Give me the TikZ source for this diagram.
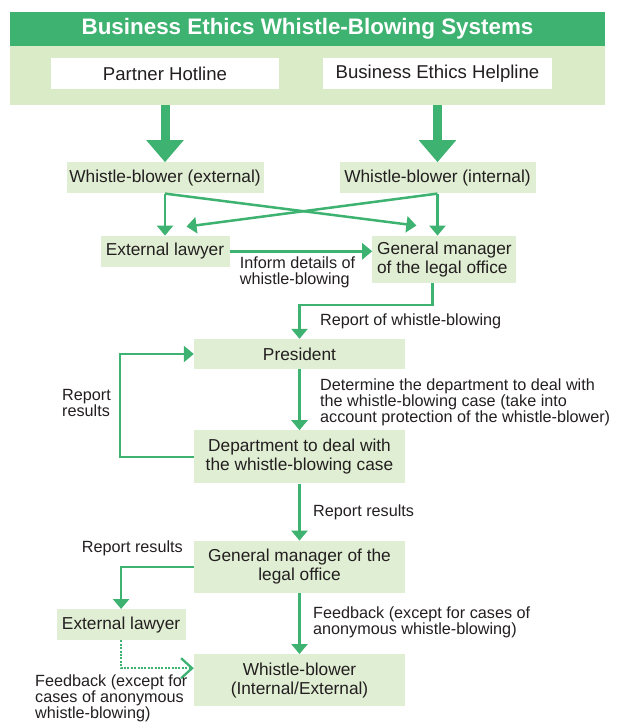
\documentclass[tikz,border=0pt]{standalone}
\usepackage{fontspec}
\setmainfont{Liberation Sans}
\usetikzlibrary{arrows.meta, positioning, calc}
\definecolor{ethicsgreen}{RGB}{62,178,112}
\definecolor{panelgreen}{RGB}{217,235,199}
\definecolor{boxgreen}{RGB}{224,238,211}
\definecolor{inkgray}{RGB}{35,31,32}

\begin{document}
\begin{tikzpicture}[x=1pt, y=-1pt, >={Triangle[length=10pt, width=16pt]},
    box/.style={fill=boxgreen, text=inkgray, align=center, inner sep=2pt, minimum width=211pt, font=\fontsize{17.3}{19}\selectfont},
    note/.style={text=inkgray, align=left, inner sep=0pt, font=\fontsize{16.2}{16}\selectfont},
    flow/.style={draw=ethicsgreen, line width=2.5pt, ->},
    dotflow/.style={draw=ethicsgreen, line width=2.3pt, dash pattern=on 2pt off 1.4pt, -{Straight Barb[length=11pt, width=20pt]}},
    bigflow/.style={draw=ethicsgreen, line width=9pt, -{Triangle[length=22pt, width=36pt]}}]

    \useasboundingbox (0,0) rectangle (621,722);

    \node[fill=panelgreen, minimum width=595pt, minimum height=93pt, inner sep=0pt] (systems) at (307.5,58.5) {};
    \node[fill=ethicsgreen, text=white, minimum width=595pt, minimum height=34pt, anchor=north, font=\bfseries\fontsize{22.4}{24}\selectfont] (title) at (systems.north) {Business Ethics Whistle-Blowing Systems};
    \node[fill=white, text=inkgray, minimum width=228pt, minimum height=31pt, font=\fontsize{18.6}{20}\selectfont] (hotline) at (165,73.5) {Partner Hotline};
    \node[fill=white, text=inkgray, minimum width=229pt, minimum height=31pt, font=\fontsize{18.6}{20}\selectfont] (helpline) at (437.5,73.5) {Business Ethics Helpline};

    \node[box, minimum width=197pt, minimum height=31pt, below = 73pt of hotline] (wb-ext) {Whistle-blower (external)};
    \node[box, minimum width=196pt, minimum height=31pt, below = 73pt of helpline] (wb-int) {Whistle-blower (internal)};
    \node[box, minimum width=129pt, minimum height=31pt, below = 42pt of wb-ext] (lawyer-a) {External lawyer};
    \node[box, minimum width=144pt, minimum height=47pt, align=left, right = 142.5pt of lawyer-a.north east, anchor=north west] (gm-legal) {General manager\\of the legal office};
    \node[note, below right = 5pt and 10pt of lawyer-a.east] (inform) {Inform details of\\whistle-blowing};

    \draw[bigflow] (hotline |- systems.south) -- (wb-ext.north);
    \draw[bigflow] (helpline |- systems.south) -- (wb-int.north);

    \coordinate (lawyer-in) at ($(lawyer-a.north)+(21.5,-9)$);
    \coordinate (gm-in) at ($(gm-legal.north)+(-28,-10)$);
    \draw[flow] (wb-ext.south) -- (lawyer-a.north);
    \draw[flow] (wb-ext.south) -- (gm-in);
    \draw[flow] (wb-int.south) -- (wb-int.south |- gm-legal.north);
    \draw[flow] (wb-int.south) -- (lawyer-in);
    \draw[flow] (lawyer-a.east) -- (lawyer-a.east -| gm-legal.west);

    \node[box, minimum height=30pt] (president) at (299.5,354) {President};
    \node[box, minimum height=53pt, below = 61pt of president] (dept) {Department to deal with\\the whistle-blowing case};
    \node[box, minimum height=52pt, below = 57pt of dept] (gm-result) {General manager of the\\legal office};
    \node[box, minimum height=52pt, below = 61pt of gm-result] (wb-all) {Whistle-blower\\(Internal/External)};
    \node[box, minimum width=129pt, minimum height=31pt, below left = 16pt and 8pt of gm-result.south west] (lawyer-b) {External lawyer};

    \draw[flow] ([xshift=-12pt]gm-legal.south) -- ++(0,22) -| (president.north);
    \node[note, anchor=west] (report-wb) at (320,321) {Report of whistle-blowing};

    \draw[flow] (president) -- (dept);
    \node[note, anchor=north west] (determine) at (320,379) {Determine the department to deal with\\the whistle-blowing case (take into\\account protection of the whistle-blower)};

    \coordinate[left = 74pt of dept.west] (loop-corner);
    \draw[flow] (dept.west) -- (loop-corner) |- (president.west);
    \node[note, anchor=west] (report-loop) at (62,403) {Report\\results};

    \draw[flow] (dept) -- (gm-result);
    \node[note, anchor=west] (report-gm) at (313,512) {Report results};

    \draw[flow] (gm-result.west) -| (lawyer-b.north);
    \node[note, anchor=east] (report-lawyer) at (183,548) {Report results};

    \draw[flow] (gm-result) -- (wb-all);
    \node[note, anchor=north west] (feedback-gm) at (313,607) {Feedback (except for cases of\\anonymous whistle-blowing)};

    \draw[dotflow] (lawyer-b.south) |- ([yshift=12pt]wb-all.west);
    \node[note, anchor=north west] (feedback-lawyer) at (35,675) {Feedback (except for\\cases of anonymous\\whistle-blowing)};

\end{tikzpicture}
\end{document}
